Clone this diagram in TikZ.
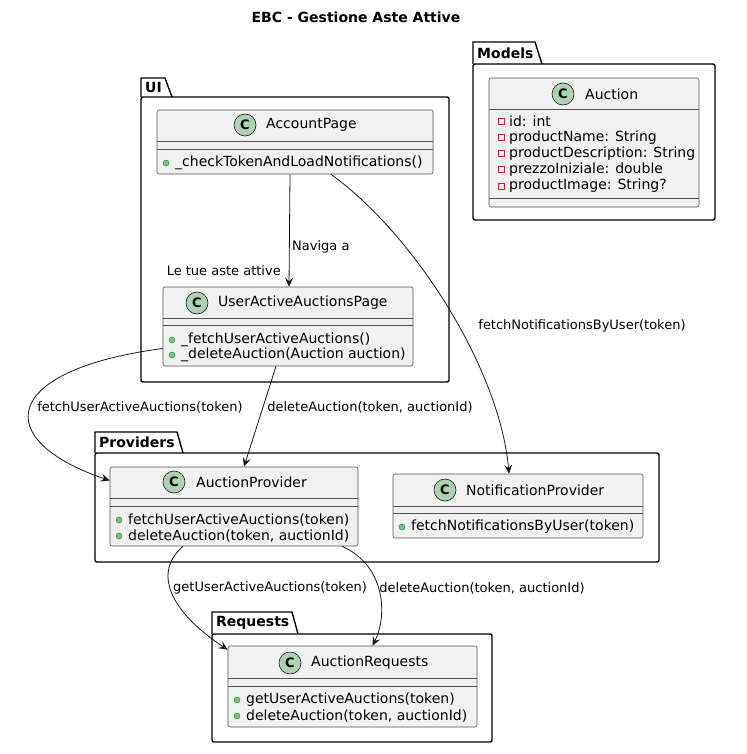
\documentclass[tikz,border=0pt]{standalone}
\usepackage{fontspec}
\setmainfont{DejaVu Sans}
\usetikzlibrary{arrows.meta,calc}
\definecolor{clsline}{HTML}{181818}
\definecolor{clsfill}{HTML}{F1F1F1}
\definecolor{cgreen}{HTML}{ADD1B2}
\definecolor{pubfill}{HTML}{84BE84}
\definecolor{publine}{HTML}{038048}
\definecolor{privline}{HTML}{C82930}
\begin{document}
\begin{tikzpicture}[x=1pt,y=-1pt,
  cls/.style={draw=clsline!75, fill=clsfill, rounded corners=2pt, line width=0.6pt, inner sep=0pt},
  sepline/.style={draw=clsline!75, line width=0.6pt},
  cname/.style={font=\fontsize{14}{16}\selectfont, anchor=west, inner sep=0pt},
  member/.style={font=\fontsize{14}{16}\selectfont, anchor=west, inner sep=0pt},
  lbl/.style={font=\fontsize{13}{15}\selectfont, inner sep=0pt},
  pkg/.style={draw=black, line width=1.4pt},
  pkgname/.style={font=\bfseries\fontsize{14}{16}\selectfont, anchor=west, inner sep=0pt},
  cc/.style={circle, draw=clsline, line width=0.6pt, fill=cgreen, minimum size=22pt, inner sep=0pt, font=\bfseries\fontsize{13}{15}\selectfont},
  pub/.style={circle, draw=publine, fill=pubfill, minimum size=6pt, inner sep=0pt},
  priv/.style={draw=privline, line width=0.6pt, minimum size=6pt, inner sep=0pt},
  rel/.style={draw=clsline, line width=0.8pt, -{Stealth[length=9pt,width=8pt,inset=3.5pt]}}]
\fill[white] (0,0) rectangle (746,754);
\useasboundingbox (0,0) rectangle (746,754);
\node[font=\bfseries\fontsize{14}{16}\selectfont] (title) at (356,17) {EBC - Gestione Aste Attive};

\draw[pkg] (141,97) -- (141,78) -- (165,78) -- (172,97);
\draw[pkg, rounded corners=2pt] (141,97) rectangle (449,382);
\node[pkgname] (ui) at (145,87) {UI};
\draw[pkg] (473,64) -- (473,42) -- (535,42) -- (542,64);
\draw[pkg, rounded corners=2pt] (473,64) rectangle (715,220);
\node[pkgname] (models) at (477,53) {Models};
\draw[pkg] (95,453) -- (95,432) -- (177,432) -- (183,453);
\draw[pkg, rounded corners=2pt] (95,453) rectangle (659,562);
\node[pkgname] (providers) at (99,442) {Providers};
\draw[pkg] (212,634) -- (212,612) -- (292,612) -- (298,634);
\draw[pkg, rounded corners=2pt] (212,634) rectangle (492,742);
\node[pkgname] (requests) at (216,623) {Requests};

\node[cls, minimum width=276pt, minimum height=64pt] (acc) at (295,142) {};
\draw[sepline] (157,141) -- (433,141);
\draw[sepline] (157,149) -- (433,149);
\node[cc] (acc-c) at (245,125) {C};
\node[cname] (acc-n) at (266,125) {AccountPage};
\node[pub] (acc-p1) at (166,163) {};
\node[member] (acc-m1) at (175,163) {\_checkTokenAndLoadNotifications()};

\node[cls, minimum width=210pt, minimum height=129pt] (auc) at (594,142.5) {};
\draw[sepline] (489,109) -- (699,109);
\draw[sepline] (489,198) -- (699,198);
\node[cc] (auc-c) at (563,94) {C};
\node[cname] (auc-n) at (585,94) {Auction};
\foreach \t [count=\i from 0] in {id: int, productName: String, productDescription: String, prezzoIniziale: double, productImage: String?} {
  \node[priv] (auc-p\i) at (501,121+16.25*\i) {};
  \node[member] (auc-a\i) at (509,121+16.25*\i) {\t};
}

\node[cls, minimum width=250pt, minimum height=79pt] (uap) at (288,326.5) {};
\draw[sepline] (163,318) -- (413,318);
\draw[sepline] (163,325) -- (413,325);
\node[cc] (uap-c) at (197,303) {C};
\node[cname] (uap-n) at (218,303) {UserActiveAuctionsPage};
\node[pub] (uap-p1) at (172,340) {};
\node[member] (uap-m1) at (181,340) {\_fetchUserActiveAuctions()};
\node[pub] (uap-p2) at (172,355) {};
\node[member] (uap-m2) at (181,355) {\_deleteAuction(Auction auction)};

\node[cls, minimum width=248pt, minimum height=79pt] (apv) at (234,506.5) {};
\draw[sepline] (110,498) -- (358,498);
\draw[sepline] (110,506) -- (358,506);
\node[cc] (apv-c) at (174,482) {C};
\node[cname] (apv-n) at (196,482) {AuctionProvider};
\node[pub] (apv-p1) at (119,520) {};
\node[member] (apv-m1) at (128,520) {fetchUserActiveAuctions(token)};
\node[pub] (apv-p2) at (119,536) {};
\node[member] (apv-m2) at (128,536) {deleteAuction(token, auctionId)};

\node[cls, minimum width=250pt, minimum height=64pt] (npv) at (518,506) {};
\draw[sepline] (393,506) -- (643,506);
\draw[sepline] (393,513) -- (643,513);
\node[cc] (npv-c) at (445,490) {C};
\node[cname] (npv-n) at (466,490) {NotificationProvider};
\node[pub] (npv-p1) at (402,527) {};
\node[member] (npv-m1) at (411,527) {fetchNotificationsByUser(token)};

\node[cls, minimum width=249pt, minimum height=81pt] (arq) at (352.5,686.5) {};
\draw[sepline] (228,678) -- (477,678);
\draw[sepline] (228,686) -- (477,686);
\node[cc] (arq-c) at (290,663) {C};
\node[cname] (arq-n) at (311,663) {AuctionRequests};
\node[pub] (arq-p1) at (237,700) {};
\node[member] (arq-m1) at (246,700) {getUserActiveAuctions(token)};
\node[pub] (arq-p2) at (237,716) {};
\node[member] (arq-m2) at (246,716) {deleteAuction(token, auctionId)};

\draw[rel] ($(acc.south)+(-5,0)$) -- ($(uap.north)+(1,0)$);
\node[lbl, anchor=west] (l-nav) at (292,247) {Naviga a};
\node[lbl, anchor=east] (l-tue) at (281,271) {Le tue aste attive};
\draw[rel] ($(acc.south)+(36,0)$) .. controls (415,235) and (500,370) .. ($(npv.north)+(-9,0)$);
\node[lbl] (l-fnb) at (582,326) {fetchNotificationsByUser(token)};
\draw[rel] ($(uap.west)+(0,22)$) .. controls (0,370) and (-10,440) .. ($(apv.west)+(0,-26)$);
\node[lbl] (l-fua) at (140,407) {fetchUserActiveAuctions(token)};
\draw[rel] ($(uap.south)+(-12,0)$) -- ($(apv.north)+(10,0)$);
\node[lbl] (l-del1) at (370,407) {deleteAuction(token, auctionId)};
\draw[rel] ($(apv.south)+(-51,0)$) .. controls (150,575) and (175,615) .. ($(arq.north west)+(0,4)$);
\node[lbl] (l-get) at (270,588) {getUserActiveAuctions(token)};
\draw[rel] ($(apv.south)+(108,0)$) .. controls (385,565) and (388,615) .. ($(arq.north)+(20,0)$);
\node[lbl] (l-del2) at (482,588) {deleteAuction(token, auctionId)};
\end{tikzpicture}
\end{document}
